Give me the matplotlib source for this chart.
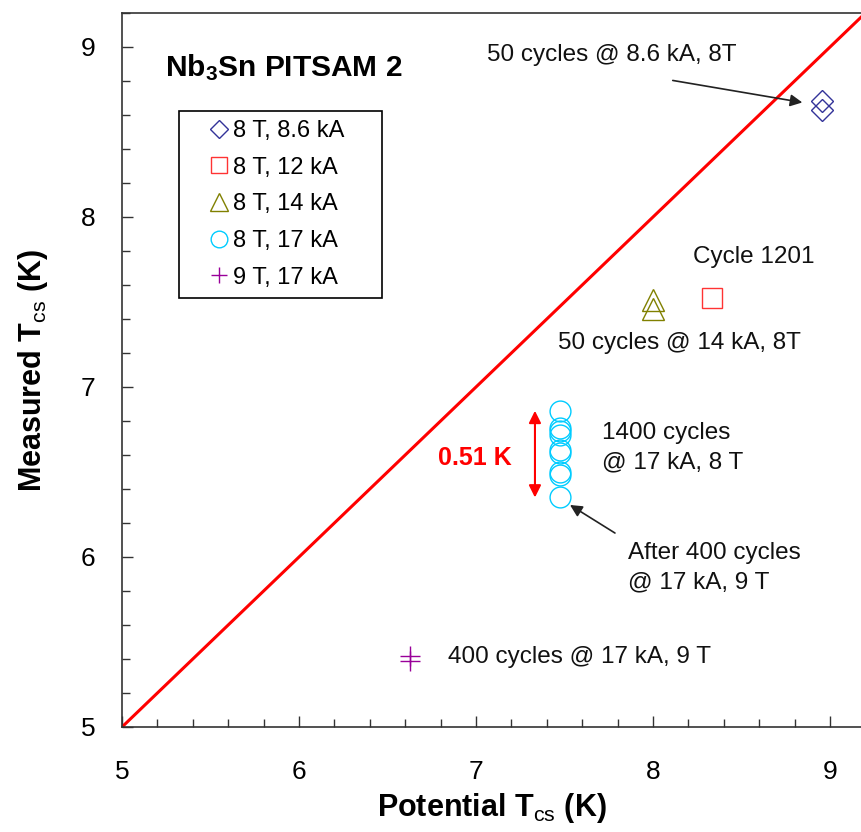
import matplotlib
matplotlib.use("Agg")
import matplotlib.pyplot as plt
from matplotlib.ticker import MultipleLocator
from matplotlib.patches import Rectangle

plt.rcParams['font.family'] = ['Liberation Sans', 'DejaVu Sans']
plt.rcParams['mathtext.fontset'] = 'custom'
plt.rcParams['mathtext.rm'] = 'Liberation Sans'
plt.rcParams['mathtext.bf'] = 'Liberation Sans:bold'
plt.rcParams['mathtext.it'] = 'Liberation Sans:italic'

# ---- data ----
diag_x = [5.0, 9.2]
diag_y = [5.0, 9.2]

d86_x = [8.955, 8.955]
d86_y = [8.68, 8.63]

s12_x = [8.333]
s12_y = [7.524]

t14_x = [8.0, 8.0]
t14_y = [7.51, 7.46]

c17_x = [7.475] * 9
c17_y = [6.86, 6.76, 6.74, 6.72, 6.63, 6.61, 6.50, 6.48, 6.35]

p9_x = [6.627, 6.627]
p9_y = [5.418, 5.388]

labels = ["8 T, 8.6 kA", "8 T, 12 kA", "8 T, 14 kA", "8 T, 17 kA", "9 T, 17 kA"]

W, H = 861, 832
fig = plt.figure(figsize=(W/100, H/100), dpi=100)
AX_L, AX_R, AX_T, AX_B = 122, 861, 13, 727
ax = fig.add_axes([AX_L/W, 1-AX_B/H, (AX_R-AX_L)/W, (AX_B-AX_T)/H])

def axfrac(px, py):
    return ((px-AX_L)/(AX_R-AX_L), 1-(py-AX_T)/(AX_B-AX_T))

ax.plot(diag_x, diag_y, color='#ff0000', lw=2.2, zorder=2)

ms_kw = dict(linestyle='none', markerfacecolor='none', markeredgewidth=1.0, zorder=3)
ax.plot(d86_x, d86_y, marker='D', markersize=11.5, markeredgecolor='#333399', label=labels[0], **ms_kw)
ax.plot(s12_x, s12_y, marker='s', markersize=15, markeredgecolor='#ff3333', label=labels[1], **ms_kw)
ax.plot(t14_x, t14_y, marker='^', markersize=16, markeredgecolor='#808000', label=labels[2], **ms_kw)
ax.plot(c17_x, c17_y, marker='o', markersize=15, markeredgecolor='#00ccff', label=labels[3], **ms_kw)
ax.plot(p9_x, p9_y, marker='+', markersize=14, markeredgecolor='#990099', label=labels[4], **ms_kw)

ax.set_xlim(5, 9.175)
ax.set_ylim(5, 9.2)

ax.xaxis.set_major_locator(MultipleLocator(1))
ax.xaxis.set_minor_locator(MultipleLocator(0.2))
ax.yaxis.set_major_locator(MultipleLocator(1))
ax.yaxis.set_minor_locator(MultipleLocator(0.2))
ax.tick_params(which='both', direction='in', color='#333333', width=1.0)
ax.tick_params(which='major', length=8, labelsize=19)
ax.tick_params(which='minor', length=6)
ax.tick_params(axis='x', which='major', pad=24)
ax.tick_params(axis='y', which='major', pad=19)
for s in ax.spines.values():
    s.set_color('#333333')
    s.set_linewidth(1.2)
ax.spines['right'].set_visible(False)

ax.set_xlabel(r"Potential T$_{\mathrm{cs}}$ (K)", fontsize=22, fontweight='bold', labelpad=5)
ax.set_ylabel(r"Measured T$_{\mathrm{cs}}$ (K)", fontsize=22, fontweight='bold', labelpad=22)

# legend (frame drawn separately)
lx, ly = axfrac(205, 120)
leg = ax.legend(loc='upper left', bbox_to_anchor=(lx, ly), borderaxespad=0,
                fontsize=17, frameon=False, handlelength=1.2, handletextpad=0.0,
                labelspacing=0.62, borderpad=0, markerscale=0.8, numpoints=1)
bx0, by0 = axfrac(179, 298)
bx1, by1 = axfrac(382, 111)
ax.add_patch(Rectangle((bx0, by0), bx1-bx0, by1-by0, transform=ax.transAxes,
                       fill=False, edgecolor='black', lw=1.2, zorder=4))

ax.text(5.243, 8.876, r"Nb$_{\mathbf{3}}$Sn PITSAM 2", fontsize=21.5, fontweight='bold',
        ha='left', va='center')

tk = dict(fontsize=17.5, color='#111111')
ax.text(7.062, 8.953, "50 cycles @ 8.6 kA, 8T", ha='left', va='center', **tk)
ax.annotate("", xy=(8.859, 8.671), xytext=(8.096, 8.806),
            arrowprops=dict(arrowstyle='-|>', color='#222222', lw=1.2, mutation_scale=18))
ax.text(8.226, 7.765, "Cycle 1201", ha='left', va='center', **tk)
ax.text(7.463, 7.259, "50 cycles @ 14 kA, 8T", ha='left', va='center', **tk)
ax.text(6.994, 6.582, "0.51 K", ha='center', va='center', fontsize=18, fontweight='bold', color='#ff0000')
ax.annotate("", xy=(7.333, 6.35), xytext=(7.333, 6.86),
            arrowprops=dict(arrowstyle='<|-|>', color='#ff0000', lw=1.5, mutation_scale=18,
                            shrinkA=0, shrinkB=0))
ax.text(7.712, 6.641, "1400 cycles\n@ 17 kA, 8 T", ha='left', va='center', linespacing=1.42, **tk)
ax.annotate("", xy=(7.531, 6.306), xytext=(7.785, 6.141),
            arrowprops=dict(arrowstyle='-|>', color='#222222', lw=1.2, mutation_scale=18,
                            shrinkA=0, shrinkB=0))
ax.text(7.859, 5.935, "After 400 cycles\n@ 17 kA, 9 T", ha='left', va='center', linespacing=1.42, **tk)
ax.text(6.842, 5.412, "400 cycles @ 17 kA, 9 T", ha='left', va='center', **tk)

fig.savefig("out.png", dpi=100)
